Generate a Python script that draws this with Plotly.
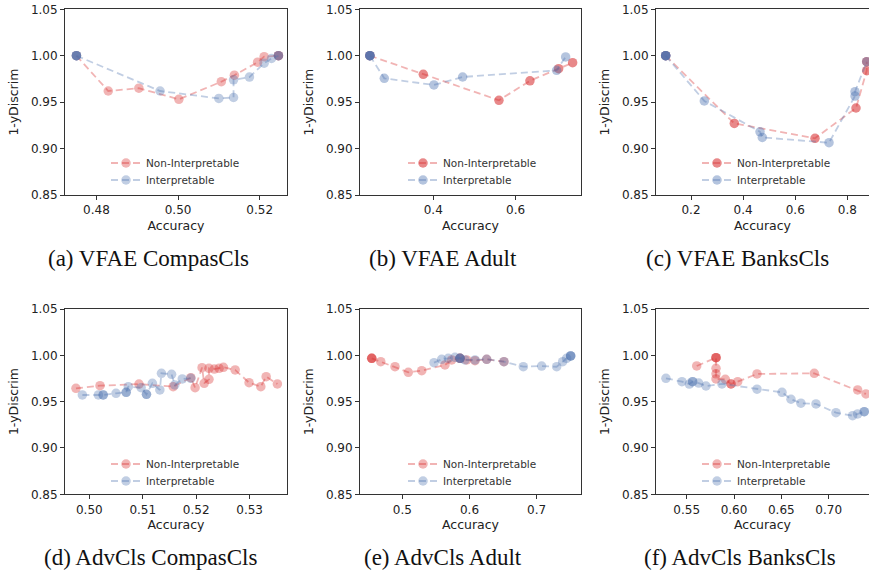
import plotly.graph_objects as go

FIG_W, FIG_H = 869, 574

# ---------------------------------------------------------------
# Accuracy vs. 1-yDiscrim for each model / dataset pair.
# "non" = Non-Interpretable runs, "int" = Interpretable runs.
# Repeated values are runs that landed on the same point.
# ---------------------------------------------------------------
vfae_compas_non_x = [0.4751, 0.4829, 0.4904, 0.5002, 0.5106, 0.5138, 0.5195, 0.5211, 0.5246, 0.5246]
vfae_compas_non_y = [1.000, 0.962, 0.965, 0.953, 0.972, 0.979, 0.993, 0.999, 1.000, 1.000]
vfae_compas_int_x = [0.4751, 0.4751, 0.4751, 0.4751, 0.4956, 0.5100, 0.5136, 0.5136, 0.5175, 0.5211, 0.5229, 0.5246, 0.5246]
vfae_compas_int_y = [1.000, 1.000, 1.000, 1.000, 0.962, 0.954, 0.955, 0.974, 0.977, 0.992, 0.997, 1.000, 1.000]

vfae_adult_non_x = [0.246, 0.3757, 0.5595, 0.6348, 0.7045, 0.7385]
vfae_adult_non_y = [1.000, 0.980, 0.952, 0.973, 0.986, 0.9925]
vfae_adult_int_x = [0.246, 0.246, 0.246, 0.246, 0.281, 0.4016, 0.4713, 0.6996, 0.7215]
vfae_adult_int_y = [1.000, 1.000, 1.000, 1.000, 0.9757, 0.9685, 0.9771, 0.9843, 0.9987]

vfae_banks_non_x = [0.1029, 0.3662, 0.6758, 0.8331, 0.8742, 0.8742]
vfae_banks_non_y = [1.000, 0.9271, 0.9111, 0.9437, 0.9839, 0.9936]
vfae_banks_int_x = [0.1029, 0.1029, 0.1029, 0.1029, 0.2511, 0.4648, 0.4736, 0.7296, 0.8293, 0.8293, 0.8742]
vfae_banks_int_y = [1.000, 1.000, 1.000, 1.000, 0.9513, 0.9181, 0.9120, 0.9063, 0.9566, 0.9613, 0.9936]

adv_compas_non_x = [0.4975, 0.5020, 0.5093, 0.5157, 0.5190, 0.5198, 0.5211, 0.5215, 0.5224, 0.5224,
                    0.5234, 0.5243, 0.5251, 0.5273, 0.5299, 0.5321, 0.5331, 0.5352]
adv_compas_non_y = [0.9644, 0.9672, 0.9690, 0.9662, 0.9759, 0.9651, 0.9867, 0.9698, 0.9741, 0.9860,
                    0.9852, 0.9860, 0.9871, 0.9842, 0.9705, 0.9662, 0.9770, 0.9691]
adv_compas_int_x = [0.4987, 0.5017, 0.5026, 0.5026, 0.5050, 0.5069, 0.5069, 0.5073, 0.5097, 0.5107, 0.5107,
                    0.5118, 0.5132, 0.5135, 0.5154, 0.5160, 0.5174, 0.5190]
adv_compas_int_y = [0.9572, 0.9572, 0.9572, 0.9572, 0.9590, 0.9601, 0.9601, 0.9662, 0.9651, 0.9579, 0.9579,
                    0.9698, 0.9626, 0.9806, 0.9795, 0.9680, 0.9745, 0.9752]

adv_adult_non_x = [0.4545, 0.4545, 0.4545, 0.4679, 0.4891, 0.5089, 0.5289, 0.5635, 0.5735, 0.5859, 0.5859,
                   0.5958, 0.6082, 0.6256, 0.6513]
adv_adult_non_y = [0.9968, 0.9968, 0.9968, 0.9931, 0.9877, 0.9817, 0.9834, 0.9896, 0.9950, 0.9968, 0.9968,
                   0.9950, 0.9942, 0.9957, 0.9931]
adv_adult_int_x = [0.5472, 0.5586, 0.5685, 0.5784, 0.5859, 0.5859, 0.5859, 0.5933, 0.6082, 0.6256, 0.6513,
                   0.6801, 0.7074, 0.7298, 0.7387, 0.7446, 0.7506, 0.7506, 0.7506]
adv_adult_int_y = [0.9921, 0.9957, 0.9968, 0.9978, 0.9968, 0.9968, 0.9968, 0.9950, 0.9950, 0.9957, 0.9931,
                   0.9877, 0.9884, 0.9877, 0.9931, 0.9968, 0.9993, 0.9993, 0.9993]

adv_banks_non_x = [0.5606, 0.5810, 0.5810, 0.5810, 0.5810, 0.5810, 0.5810, 0.5908, 0.5968, 0.5968,
                   0.6039, 0.6243, 0.6848, 0.7306, 0.7394]
adv_banks_non_y = [0.9885, 0.9975, 0.9975, 0.9975, 0.9860, 0.9800, 0.9745, 0.9741, 0.9691, 0.9691,
                   0.9716, 0.9799, 0.9806, 0.9626, 0.9583]
adv_banks_int_x = [0.5281, 0.5450, 0.5528, 0.5563, 0.5563, 0.5627, 0.5704, 0.5873, 0.6243, 0.6507,
                   0.6602, 0.6707, 0.6866, 0.7077, 0.7253, 0.7306, 0.7376, 0.7376]
adv_banks_int_y = [0.9752, 0.9716, 0.9690, 0.9716, 0.9716, 0.9700, 0.9669, 0.9691, 0.9634, 0.9601,
                   0.9526, 0.9483, 0.9475, 0.9381, 0.9349, 0.9367, 0.9392, 0.9392]

y_ticks = [0.85, 0.90, 0.95, 1.00, 1.05]
series_names = ["Non-Interpretable", "Interpretable"]
captions = ["(a) VFAE CompasCls", "(b) VFAE Adult", "(c) VFAE BanksCls",
            "(d) AdvCls CompasCls", "(e) AdvCls Adult", "(f) AdvCls BanksCls"]

# ---------------- styling / layout (pixels) ----------------
RED = (214, 39, 40)
BLUE = (76, 114, 176)
LINE_ALPHA = 0.35
AXIS_COLOR = "#333333"
FONT = "DejaVu Sans"


def rgba(c, a):
    return "rgba(%d,%d,%d,%.3f)" % (c[0], c[1], c[2], a)


panels = [
    dict(non=(vfae_compas_non_x, vfae_compas_non_y), itp=(vfae_compas_int_x, vfae_compas_int_y),
         xpx=(65, 287), ypx=(9.3, 195), xrange=(0.4723, 0.5267), xticks=[0.48, 0.50, 0.52], fmt=".2f",
         alpha=(0.35, 0.35), right=True, leg=(125, 163), cap=(148, 258)),
    dict(non=(vfae_adult_non_x, vfae_adult_non_y), itp=(vfae_adult_int_x, vfae_adult_int_y),
         xpx=(360, 581), ypx=(9.3, 195), xrange=(0.222, 0.7588), xticks=[0.4, 0.6], fmt=".1f",
         alpha=(0.55, 0.42), right=True, leg=(422, 163), cap=(443, 258)),
    dict(non=(vfae_banks_non_x, vfae_banks_non_y), itp=(vfae_banks_int_x, vfae_banks_int_y),
         xpx=(656, 869), ypx=(9.3, 195), xrange=(0.0657, 0.883), xticks=[0.2, 0.4, 0.6, 0.8], fmt=".1f",
         alpha=(0.55, 0.42), right=False, leg=(716, 163), cap=(737, 258)),
    dict(non=(adv_compas_non_x, adv_compas_non_y), itp=(adv_compas_int_x, adv_compas_int_y),
         xpx=(65, 287), ypx=(309, 494.3), xrange=(0.49545, 0.5370), xticks=[0.50, 0.51, 0.52, 0.53], fmt=".2f",
         alpha=(0.35, 0.35), right=True, leg=(125, 464), cap=(150, 557)),
    dict(non=(adv_adult_non_x, adv_adult_non_y), itp=(adv_adult_int_x, adv_adult_int_y),
         xpx=(360, 581), ypx=(309, 494.3), xrange=(0.437, 0.766), xticks=[0.5, 0.6, 0.7], fmt=".1f",
         alpha=(0.35, 0.35), right=True, leg=(422, 464), cap=(443, 557)),
    dict(non=(adv_banks_non_x, adv_banks_non_y), itp=(adv_banks_int_x, adv_banks_int_y),
         xpx=(656, 869), ypx=(309, 494.3), xrange=(0.5176, 0.7426), xticks=[0.55, 0.60, 0.65, 0.70], fmt=".2f",
         alpha=(0.35, 0.35), right=False, leg=(716, 464), cap=(740, 557)),
]

fig = go.Figure()
layout = dict(
    template="none",
    width=FIG_W, height=FIG_H,
    margin=dict(l=0, r=0, t=0, b=0, pad=0),
    paper_bgcolor="white", plot_bgcolor="white",
    font=dict(family=FONT, size=12, color="#222222"),
    showlegend=True,
)
annotations = []
legend_count = 0

for i, p in enumerate(panels):
    n = i + 1
    xa = "x" if n == 1 else "x%d" % n
    ya = "y" if n == 1 else "y%d" % n
    xkey = "xaxis" if n == 1 else "xaxis%d" % n
    ykey = "yaxis" if n == 1 else "yaxis%d" % n

    x0, x1 = p["xpx"]
    yt, yb = p["ypx"]
    layout[xkey] = dict(
        domain=[x0 / FIG_W, x1 / FIG_W], anchor=ya, range=list(p["xrange"]),
        tickvals=p["xticks"], tickformat=p["fmt"], automargin=False,
        showline=True, linecolor=AXIS_COLOR, linewidth=1, mirror=True,
        ticks="outside", ticklen=4, tickwidth=1, tickcolor=AXIS_COLOR,
        showgrid=False, zeroline=False,
        tickfont=dict(size=12, color="#222222"),
        title=dict(text="Accuracy", font=dict(size=12.5, color="#222222"), standoff=4),
    )
    layout[ykey] = dict(
        domain=[1 - yb / FIG_H, 1 - yt / FIG_H], anchor=xa, range=[0.85, 1.05],
        tickvals=y_ticks, tickformat=".2f", automargin=False,
        showline=True, linecolor=AXIS_COLOR, linewidth=1, mirror=p["right"],
        ticks="outside", ticklen=4, tickwidth=1, tickcolor=AXIS_COLOR,
        showgrid=False, zeroline=False,
        tickfont=dict(size=12, color="#222222"),
        title=dict(text="1-yDiscrim", font=dict(size=12.5, color="#222222"), standoff=9),
    )

    for j, (key, col) in enumerate((("non", RED), ("itp", BLUE))):
        legend_count += 1
        lid = "legend" if legend_count == 1 else "legend%d" % legend_count
        xs, ys = p[key]
        fig.add_trace(go.Scatter(
            x=xs, y=ys, xaxis=xa, yaxis=ya, mode="lines+markers",
            name=series_names[j], legend=lid, showlegend=True,
            line=dict(color=rgba(col, LINE_ALPHA), width=1.8, dash="7px,4px"),
            marker=dict(size=9.5, color=rgba(col, p["alpha"][j]), line=dict(width=0)),
            hoverinfo="skip",
        ))
        lx, ly = p["leg"]
        layout[lid] = dict(
            x=(lx - 19) / FIG_W, y=1 - (ly + 17 * j) / FIG_H,
            xanchor="left", yanchor="middle",
            bgcolor="rgba(0,0,0,0)", borderwidth=0,
            font=dict(family=FONT, size=10.5, color="#333333"),
            itemwidth=30, itemclick=False, itemdoubleclick=False,
        )

    cx, cy = p["cap"]
    annotations.append(dict(
        text=captions[i], xref="paper", yref="paper",
        x=cx / FIG_W, y=1 - cy / FIG_H, xanchor="center", yanchor="middle",
        showarrow=False, font=dict(family="Liberation Serif", size=23, color="#111111"),
    ))

layout["annotations"] = annotations
fig.update_layout(**layout)
fig.write_html("out.html")
